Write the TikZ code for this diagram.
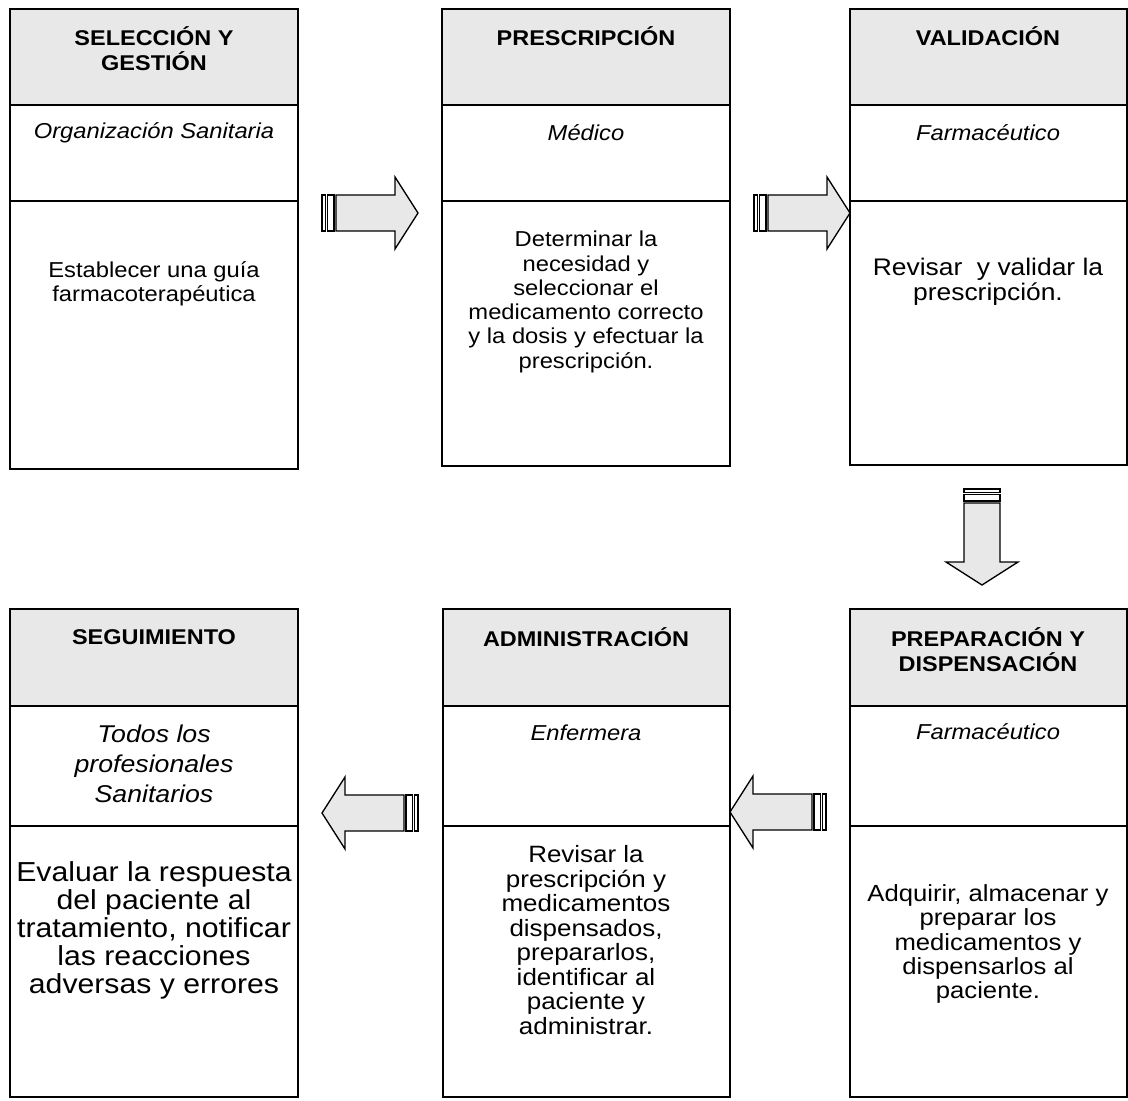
\documentclass[tikz,border=0pt]{standalone}
\usepackage{fontspec}
\setmainfont{Liberation Sans}[FakeStretch=1.1]
\definecolor{boxgray}{RGB}{232,232,232}
\definecolor{arrowgray}{RGB}{232,232,232}
% one stage: name, left, right, top, header bottom, role bottom, bottom
\newcommand\stagebox[7]{%
  \fill[boxgray] (#2,#4) rectangle (#3,#5);
  \draw[frame] (#2,#5) -- (#3,#5);
  \draw[frame] (#2,#6) -- (#3,#6);
  \draw[frame] (#2,#4) rectangle (#3,#7);
  \coordinate (#1) at ({(#2+#3)/2},#4);
}
\begin{document}
\begin{tikzpicture}[x=0.75pt,y=-0.75pt,
  frame/.style={draw=black, line width=1.7pt},
  arrowline/.style={draw=black, line width=1pt, line join=miter},
  headtxt/.style={font=\fontsize{16pt}{18.8pt}\bfseries\selectfont, align=center, inner sep=0pt},
  roletxt/.style={font=\fontsize{16.2pt}{18.2pt}\itshape\selectfont, align=center, inner sep=0pt},
  desctxt/.style={font=\fontsize{16.2pt}{18.2pt}\selectfont, align=center, inner sep=0pt},
  blockarrow/.pic={
    \draw[arrowline, fill=arrowgray] (-82,-18) -- (-23,-18) -- (-23,-36) -- (0,0)
      -- (-23,36) -- (-23,18) -- (-82,18) -- cycle;
    \draw[arrowline, fill=white] (-90.5,-18) rectangle (-84,18);
    \draw[arrowline, fill=white] (-96,-18) rectangle (-92.5,18);
  }]
\useasboundingbox (0,0) rectangle (1128,1100);

% block arrows between the stages
\pic (a1) at (418,213) {blockarrow};
\pic (a2) at (850,213) {blockarrow};
\pic[rotate=-90] (a3) at (982,585) {blockarrow};
\pic[rotate=180] (a4) at (730,812) {blockarrow};
\pic[rotate=180] (a5) at (322,813) {blockarrow};

% stage frames
\stagebox{s1}{10}{298}{9}{105}{201}{469}
\stagebox{s2}{442}{730}{9}{105}{201}{466}
\stagebox{s3}{850}{1127}{9}{105}{201}{465}
\stagebox{s4}{10}{298}{609}{706}{826}{1097}
\stagebox{s5}{443}{730}{609}{706}{826}{1097}
\stagebox{s6}{850}{1127}{609}{706}{826}{1097}

% top row texts
\node[headtxt] (h1) at (154,49) {SELECCIÓN Y\\GESTIÓN};
\node[roletxt] (r1) at (154,133) {Organización Sanitaria};
\node[desctxt] (d1) at (154,283.5) {Establecer una guía\\farmacoterapéutica};

\node[headtxt] (h2) at (586,36) {PRESCRIPCIÓN};
\node[roletxt] (r2) at (586,133) {Médico};
\node[desctxt] (d2) at (586,302) {Determinar la\\necesidad y\\seleccionar el\\medicamento correcto\\y la dosis y efectuar la\\prescripción.};

\node[headtxt] (h3) at (988,36) {VALIDACIÓN};
\node[roletxt] (r3) at (988,133) {Farmacéutico};
\node[desctxt, font=\fontsize{18pt}{19pt}\selectfont] (d3) at (988,282) {Revisar\ \ y validar la\\prescripción.};

% bottom row texts
\node[headtxt] (h4) at (154,637) {SEGUIMIENTO};
\node[roletxt, font=\fontsize{18.2pt}{22.5pt}\itshape\selectfont] (r4) at (154,764) {Todos los\\profesionales\\Sanitarios};
\node[desctxt, font=\fontsize{20.6pt}{21pt}\selectfont] (d4) at (154,930) {Evaluar la respuesta\\del paciente al\\tratamiento, notificar\\las reacciones\\adversas y errores};

\node[headtxt] (h5) at (586,637) {ADMINISTRACIÓN};
\node[roletxt] (r5) at (586,733) {Enfermera};
\node[desctxt, font=\fontsize{17.7pt}{18.4pt}\selectfont] (d5) at (586,940) {Revisar la\\prescripción y\\medicamentos\\dispensados,\\prepararlos,\\identificar al\\paciente y\\administrar.};

\node[headtxt] (h6) at (988,650) {PREPARACIÓN Y\\DISPENSACIÓN};
\node[roletxt] (r6) at (988,732) {Farmacéutico};
\node[desctxt, font=\fontsize{17.5pt}{18.2pt}\selectfont] (d6) at (988,944) {Adquirir, almacenar y\\preparar los\\medicamentos y\\dispensarlos al\\paciente.};
\end{tikzpicture}
\end{document}
